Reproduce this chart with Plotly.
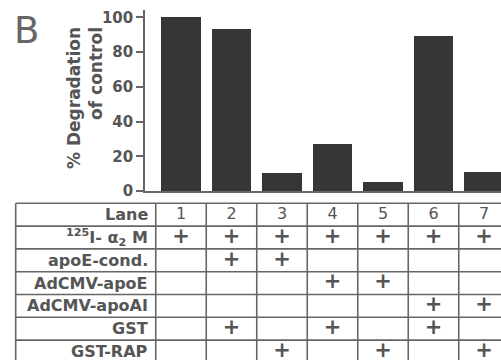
import plotly.graph_objects as go

# ---- data ----
lanes = [1, 2, 3, 4, 5, 6, 7]
degradation = [100, 93.5, 10.5, 27, 5, 89, 11]
y_ticks = [0, 20, 40, 60, 80, 100]

row_labels = ["Lane", "<sup>125</sup>I- α<sub>2</sub> M", "apoE-cond.", "AdCMV-apoE",
              "AdCMV-apoAI", "GST", "GST-RAP"]
iodine_a2m = [1, 2, 3, 4, 5, 6, 7]
apoe_cond = [2, 3]
adcmv_apoe = [4, 5]
adcmv_apoai = [6, 7]
gst = [2, 4, 6]
gst_rap = [3, 5, 7]
treatments = [iodine_a2m, apoe_cond, adcmv_apoe, adcmv_apoai, gst, gst_rap]

# ---- geometry (pixels) ----
W, H = 501, 360
LANE1_PX, LANE_PX = 181, 50.5
AXIS_PX = 145
TABLE_LEFT_PX = 15.7
Y0_PX, Y100_PX, YTOP_PX = 191, 17.3, 10
TABLE_TOP_PX, ROW_PX = 203.3, 22.8

def lane_at(px):
    return 1 + (px - LANE1_PX) / LANE_PX

def row_at(px):
    return -0.5 + (px - TABLE_TOP_PX) / ROW_PX

TXT = "#555555"
LINE = "#666666"
BAR = "#363636"
FONT = "DejaVu Sans"

fig = go.Figure()

fig.add_trace(go.Bar(x=lanes, y=degradation, width=0.79,
                     marker=dict(color=BAR, line=dict(width=0)),
                     xaxis="x", yaxis="y", showlegend=False, hoverinfo="skip"))

# lane numbers
fig.add_trace(go.Scatter(x=lanes, y=[0] * len(lanes), mode="text",
                         text=[str(l) for l in lanes],
                         textfont=dict(family=FONT, size=16, color=TXT),
                         xaxis="x2", yaxis="y2", showlegend=False, hoverinfo="skip",
                         cliponaxis=True))

# plus marks
px_, py_ = [], []
for r, lst in enumerate(treatments, start=1):
    for l in lst:
        px_.append(l)
        py_.append(r)
fig.add_trace(go.Scatter(x=px_, y=py_, mode="text", text=["<b>+</b>"] * len(px_),
                         textfont=dict(family=FONT, size=21, color=TXT),
                         xaxis="x2", yaxis="y2", showlegend=False, hoverinfo="skip",
                         cliponaxis=True))

shapes = []
x_left = lane_at(TABLE_LEFT_PX)
x_right = lane_at(W) + 1
y_top = -0.5
y_bot = row_at(H) + 1
# vertical lines
for xv in [x_left] + [k + 0.5 for k in range(len(lanes) + 1)]:
    shapes.append(dict(type="line", xref="x2", yref="y2", x0=xv, x1=xv, y0=y_top, y1=y_bot,
                       line=dict(color=LINE, width=1.6)))
# horizontal lines
for r in range(len(row_labels) + 1):
    yv = r - 0.5
    shapes.append(dict(type="line", xref="x2", yref="y2", x0=x_left, x1=x_right, y0=yv, y1=yv,
                       line=dict(color=LINE, width=1.6)))

annotations = []
for i, lab in enumerate(row_labels):
    annotations.append(dict(text=f"<b>{lab}</b>", xref="x2", yref="y2", x=0.5, y=i,
                            xanchor="right", yanchor="middle", xshift=-6, showarrow=False,
                            font=dict(family=FONT, size=16, color=TXT)))
annotations.append(dict(text="<b>% Degradation<br>of control</b>", xref="paper", yref="paper",
                        x=85 / W, y=1 - 98 / H, xanchor="center", yanchor="middle",
                        textangle=-90, align="right", showarrow=False,
                        font=dict(family=FONT, size=17, color=TXT)))
annotations.append(dict(text="B", xref="paper", yref="paper", x=12 / W, y=1 - 30 / H,
                        xanchor="left", yanchor="middle", showarrow=False,
                        font=dict(family=FONT, size=37, color="#666666")))

fig.update_layout(
    width=W, height=H, margin=dict(l=0, r=0, t=0, b=0, pad=0, autoexpand=False),
    paper_bgcolor="white", plot_bgcolor="rgba(0,0,0,0)",
    bargap=0,
    shapes=shapes, annotations=annotations,
    xaxis=dict(domain=[AXIS_PX / W, 1], range=[lane_at(AXIS_PX), lane_at(W)],
               showline=True, linecolor=LINE, linewidth=1.6, showticklabels=False,
               ticks="", showgrid=False, zeroline=False, anchor="y", automargin=False),
    yaxis=dict(domain=[(H - Y0_PX) / H, (H - YTOP_PX) / H],
               range=[0, (Y0_PX - YTOP_PX) / ((Y0_PX - Y100_PX) / 100)],
               tickvals=y_ticks, ticks="outside", ticklen=7, tickwidth=1.5, tickcolor=LINE,
               showline=True, linecolor=LINE, linewidth=1.6, showgrid=False, zeroline=False,
               tickfont=dict(family=FONT, size=15, color=TXT, weight="bold"), anchor="x",
               automargin=False),
    xaxis2=dict(domain=[0, 1], range=[lane_at(0), lane_at(W)], visible=False, anchor="y2",
                automargin=False),
    yaxis2=dict(domain=[0, 1], range=[row_at(H), row_at(0)], visible=False, anchor="x2",
                automargin=False),
)

fig.write_html("out.html", config={"displayModeBar": False},
               post_script="document.body.style.margin='0';document.body.style.overflow='hidden';")
